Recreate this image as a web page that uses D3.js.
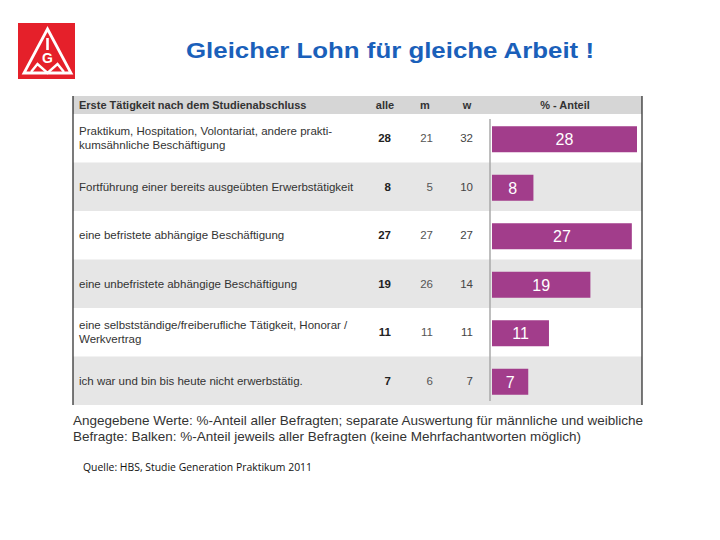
<!DOCTYPE html>
<html><head><meta charset="utf-8">
<script src="https://cdn.jsdelivr.net/npm/d3@7"></script>
<style>body{margin:0;background:#fff}</style>
</head><body><svg id="c" width="720" height="540"></svg>
<script>
const categories = [
  ["Praktikum, Hospitation, Volontariat, andere prakti-", "kumsähnliche Beschäftigung"],
  ["Fortführung einer bereits ausgeübten Erwerbstätigkeit"],
  ["eine befristete abhängige Beschäftigung"],
  ["eine unbefristete abhängige Beschäftigung"],
  ["eine selbstständige/freiberufliche Tätigkeit, Honorar /", "Werkvertrag"],
  ["ich war und bin bis heute nicht erwerbstätig."]
];
const alle = [28, 8, 27, 19, 11, 7];
const maenner = [21, 5, 27, 26, 11, 6];
const frauen = [32, 10, 27, 14, 11, 7];
const headers = ["Erste Tätigkeit nach dem Studienabschluss", "alle", "m", "w", "% - Anteil"];
const title = "Gleicher Lohn für gleiche Arbeit !";
const footnote = ["Angegebene Werte: %-Anteil aller Befragten; separate Auswertung für männliche und weibliche",
                  "Befragte: Balken: %-Anteil jeweils aller Befragten (keine Mehrfachantworten möglich)"];
const source = "Quelle: HBS, Studie Generation Praktikum 2011";

const svg = d3.select("#c");
const F = "'Liberation Sans', Arial, sans-serif";

// Logo
const logo = svg.append("g");
logo.append("rect").attr("x", 18).attr("y", 23).attr("width", 57).attr("height", 56).attr("fill", "#e5202a");
logo.append("path").attr("d", "M47.5,29 L71,73 L24,73 Z").attr("fill", "none").attr("stroke", "#fff").attr("stroke-width", 2.8).attr("stroke-linejoin", "miter");
logo.append("path").attr("d", "M47.5,38 L47.5,50").attr("stroke", "#fff").attr("stroke-width", 2.6);
logo.append("text").attr("x", 47.5).attr("y", 63).attr("text-anchor", "middle").attr("font-family", F).attr("font-weight", "bold").attr("font-size", 14).attr("fill", "#fff").text("G");
logo.append("path").attr("d", "M31,72 L37.5,64 L47.5,73 L57.5,64 L64,72").attr("fill", "none").attr("stroke", "#fff").attr("stroke-width", 2.4);

// Title
svg.append("text").attr("x", 186).attr("y", 58)
  .attr("font-family", F).attr("font-weight", "bold").attr("font-size", 22.5).attr("fill", "#1a60ba")
  .attr("textLength", 408).attr("lengthAdjust", "spacingAndGlyphs").text(title);

// Table geometry
const tableL = 73, tableR = 642, headTop = 96, headBot = 114, tableBot = 405;
const y = d3.scaleBand().domain(d3.range(categories.length)).range([headBot, tableBot]).paddingInner(0).paddingOuter(0);
const x = d3.scaleLinear().domain([0, 28]).range([492, 637]);

svg.append("rect").attr("x", tableL).attr("y", headTop).attr("width", tableR - tableL).attr("height", headBot - headTop).attr("fill", "#d6d6d6");
svg.selectAll(".rowbg").data(categories).join("rect")
  .attr("x", tableL).attr("y", (d, i) => y(i)).attr("width", tableR - tableL).attr("height", y.bandwidth())
  .attr("fill", (d, i) => i % 2 ? "#e6e6e6" : "#ffffff");

// headers
const hx = [79, 385, 425, 467, 565];
const hanchor = ["start", "middle", "middle", "middle", "middle"];
svg.selectAll(".hd").data(headers).join("text")
  .attr("x", (d, i) => hx[i]).attr("y", 109).attr("text-anchor", (d, i) => hanchor[i])
  .attr("font-family", F).attr("font-weight", "bold").attr("font-size", 11).attr("fill", "#333").text(d => d);

// category labels
categories.forEach((lines, i) => {
  const c = y(i) + y.bandwidth() / 2;
  const t = svg.append("text").attr("font-family", F).attr("font-size", 11.5).attr("fill", "#333");
  if (lines.length === 1) {
    t.append("tspan").attr("x", 79).attr("y", c + 4).text(lines[0]);
  } else {
    t.append("tspan").attr("x", 79).attr("y", c - 3).text(lines[0]);
    t.append("tspan").attr("x", 79).attr("y", c + 11).text(lines[1]);
  }
});

// numeric columns
const cols = [{v: alle, x: 391, w: "bold", c: "#222"}, {v: maenner, x: 433, w: "normal", c: "#555"}, {v: frauen, x: 473, w: "normal", c: "#444"}];
cols.forEach(col => {
  svg.selectAll(null).data(col.v).join("text")
    .attr("x", col.x).attr("y", (d, i) => y(i) + y.bandwidth() / 2 + 4).attr("text-anchor", "end")
    .attr("font-family", F).attr("font-weight", col.w).attr("font-size", 11.5).attr("fill", col.c).text(d => d);
});

// bars
const bh = 26;
svg.selectAll(".bar").data(alle).join("rect")
  .attr("x", x(0)).attr("y", (d, i) => y(i) + y.bandwidth() / 2 - bh / 2 + 1).attr("width", d => x(d) - x(0)).attr("height", bh)
  .attr("fill", "#a23d8b");
svg.selectAll(".bl").data(alle).join("text")
  .attr("x", d => (x(d) + x(0)) / 2).attr("y", (d, i) => y(i) + y.bandwidth() / 2 + 7).attr("text-anchor", "middle")
  .attr("font-family", F).attr("font-size", 16).attr("fill", "#fff").text(d => d);

// axis line
svg.append("line").attr("x1", 490).attr("x2", 490).attr("y1", 119).attr("y2", 401).attr("stroke", "#a8a8a8").attr("stroke-width", 1.5);

// borders
[tableL, tableR].forEach(bx => svg.append("line").attr("x1", bx).attr("x2", bx).attr("y1", headTop).attr("y2", tableBot).attr("stroke", "#222").attr("stroke-width", 1.2));

// footnote
svg.selectAll(".fn").data(footnote).join("text")
  .attr("x", tableL).attr("y", (d, i) => 425 + i * 16)
  .attr("font-family", F).attr("font-size", 13.5).attr("fill", "#333").text(d => d);

svg.append("text").attr("x", 83).attr("y", 471).attr("font-family", "'Open Sans', sans-serif").attr("font-size", 10.5)
  .attr("textLength", 229).attr("lengthAdjust", "spacingAndGlyphs").attr("fill", "#111").text(source);
</script></body></html>
